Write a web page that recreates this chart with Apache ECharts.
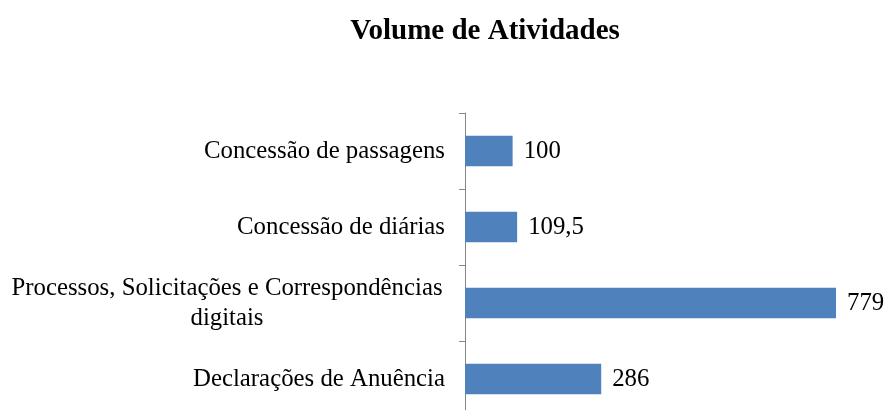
<!DOCTYPE html>
<html>
<head>
<meta charset="utf-8">
<script src="https://cdn.jsdelivr.net/npm/echarts@6/dist/echarts.min.js"></script>
<style>
  html, body { margin: 0; padding: 0; background: #ffffff; }
  #main { width: 888px; height: 410px; }
</style>
</head>
<body>
<div id="main"></div>
<script>
// categories listed bottom to top (ECharts category y axis starts at the bottom)
var categories = [
  "Declarações de Anuência",
  "Processos, Solicitações e Correspondências\ndigitais",
  "Concessão de diárias",
  "Concessão de passagens"
];
var values = [286, 779, 109.5, 100];
var valueLabels = ["286", "779", "109,5", "100"];

var myChart = echarts.init(document.getElementById("main"));
var font = "'Liberation Serif', 'Times New Roman', serif";

var option = {
  animation: false,
  title: {
    text: "Volume de Atividades",
    left: 480,
    textAlign: "center",
    top: 12,
    textStyle: {
      fontFamily: font,
      fontSize: 29,
      fontWeight: "bold",
      color: "#000000"
    }
  },
  grid: {
    left: 465,
    top: 113,
    width: 381,
    height: 304,
    outerBoundsMode: "none",
    containLabel: false
  },
  xAxis: {
    type: "value",
    min: 0,
    max: 800,
    show: false
  },
  yAxis: {
    type: "category",
    data: categories,
    axisLine: { show: true, lineStyle: { color: "#868686", width: 1 } },
    axisTick: { show: true, inside: false, length: 6, lineStyle: { color: "#868686", width: 1 } },
    axisLabel: {
      margin: 20,
      fontFamily: font,
      fontSize: 24.8,
      color: "#000000",
      lineHeight: 30,
      formatter: function (v) {
        if (v.indexOf("\n") < 0) return v;
        return v.split("\n").map(function (s) { return "{c|" + s + "}"; }).join("\n");
      },
      rich: {
        c: {
          width: 436,
          align: "center",
          fontFamily: font,
          fontSize: 24.8,
          lineHeight: 30,
          color: "#000000"
        }
      }
    }
  },
  series: [
    {
      type: "bar",
      data: values,
      barCategoryGap: "60%",
      itemStyle: { color: "#4F81BD" },
      label: {
        show: true,
        position: "right",
        distance: 11,
        fontFamily: font,
        fontSize: 24.8,
        color: "#000000",
        formatter: function (p) { return valueLabels[p.dataIndex]; }
      }
    }
  ]
};
myChart.setOption(option);
</script>
</body>
</html>
